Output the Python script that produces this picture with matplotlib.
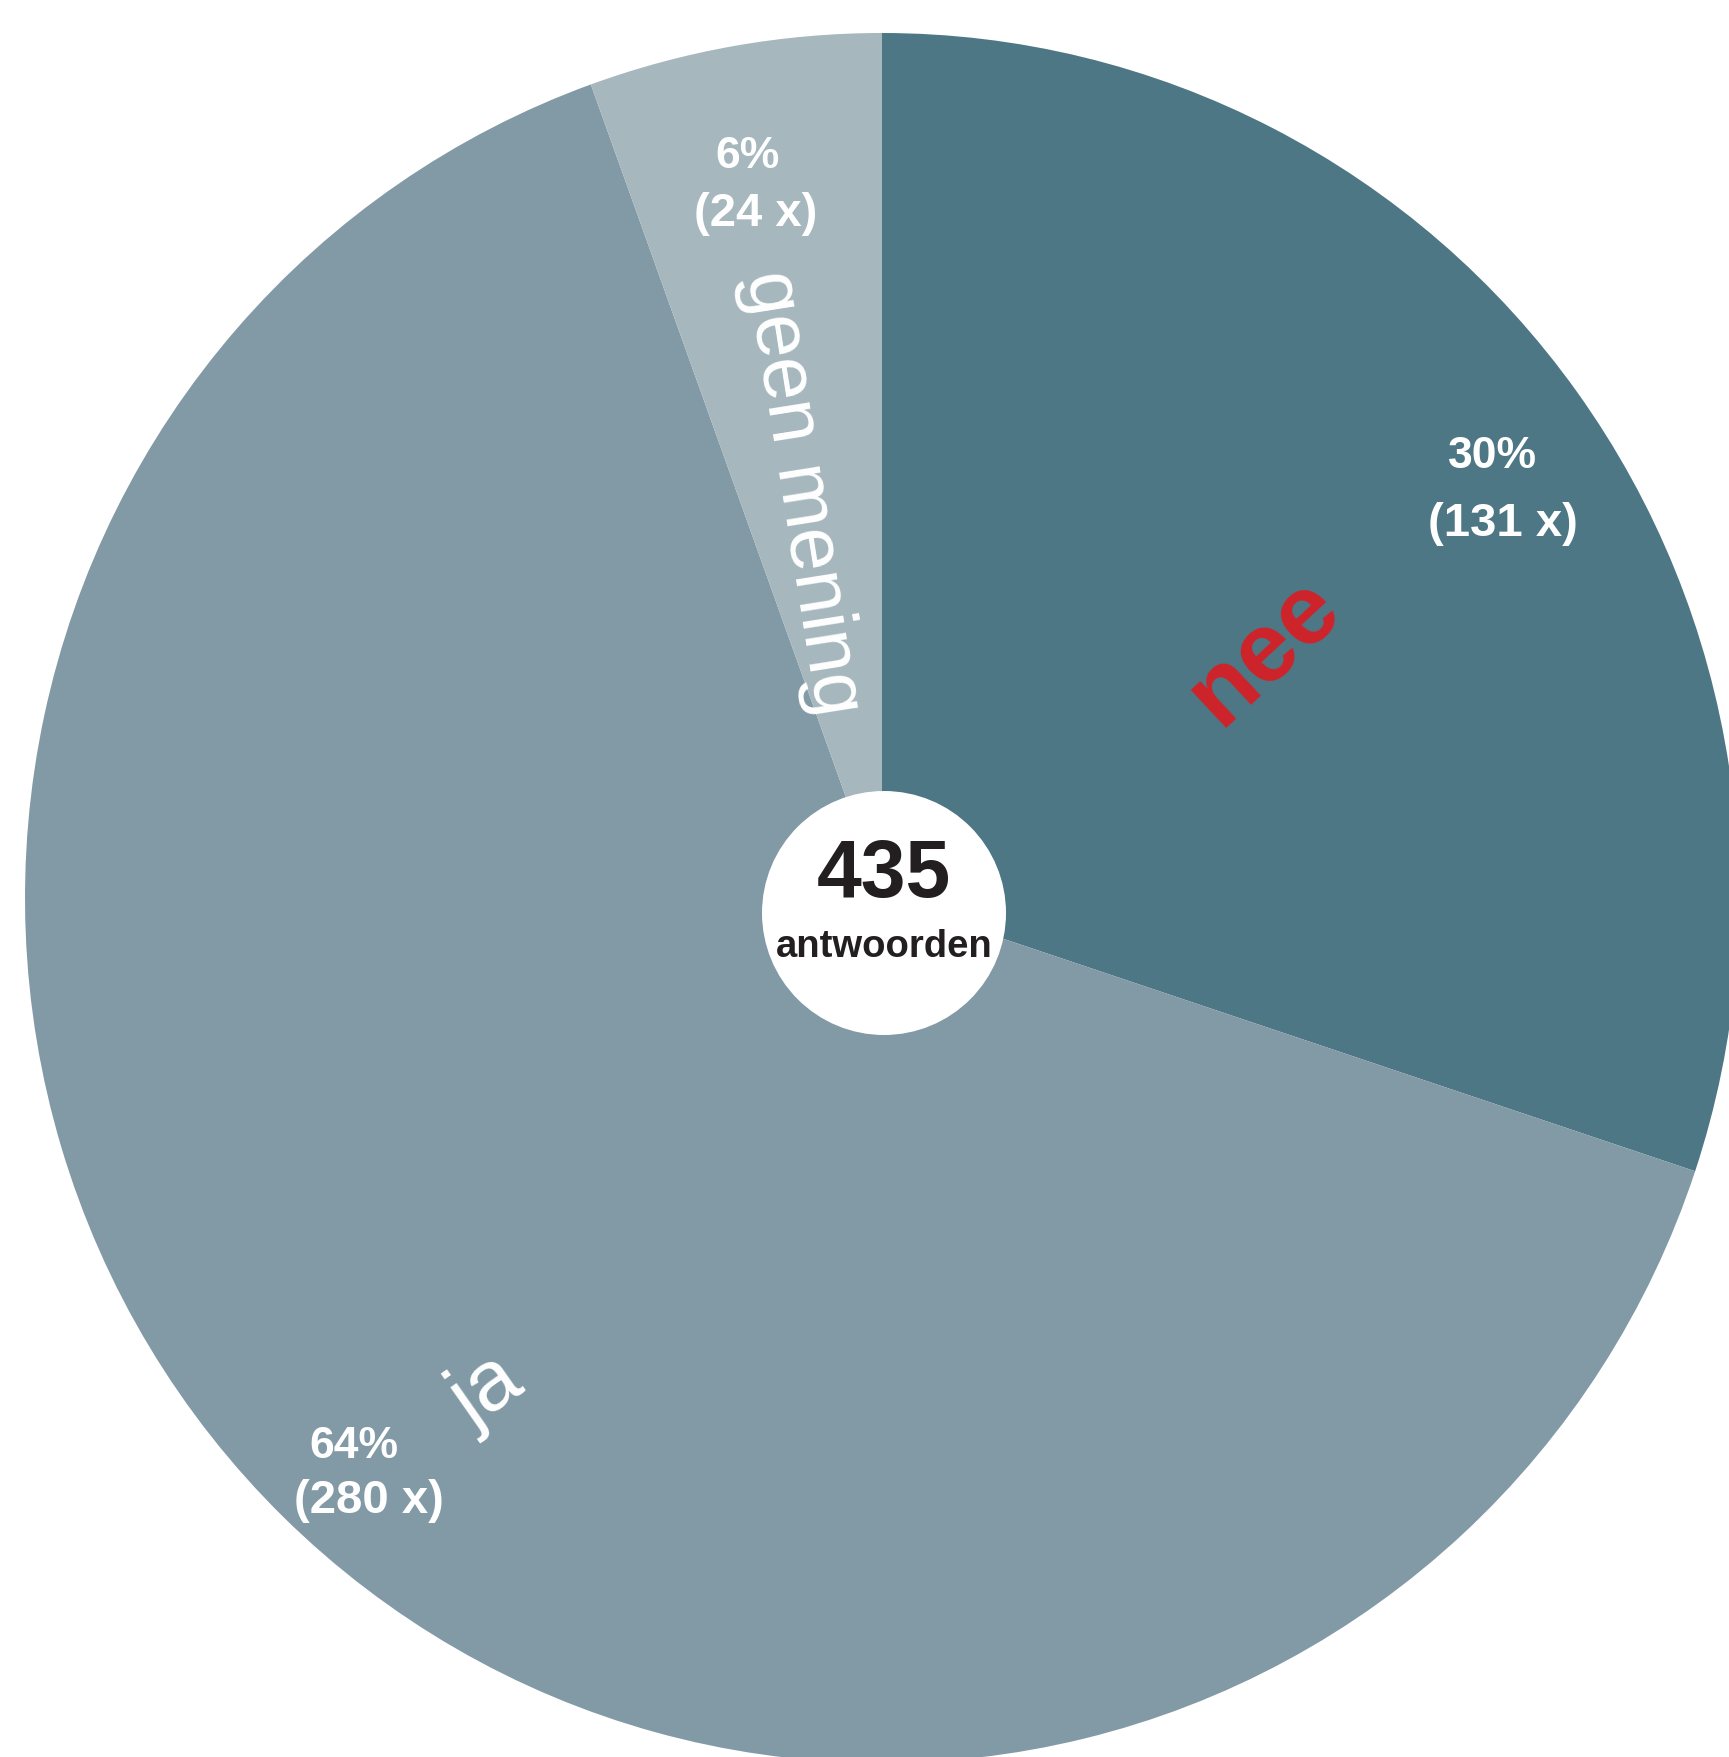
import matplotlib
matplotlib.use("Agg")
import matplotlib.pyplot as plt
from matplotlib.patches import Ellipse

# survey answers
CATEGORIES = ["nee", "ja", "geen mening"]
COUNTS = [131, 280, 24]
TOTAL_LABEL = "antwoorden"

COLORS = ["#4d7784", "#8299a6", "#a6b7be"]
RED = "#cf232a"
INK = "#231f20"

W, H = 1729, 1757
CX, CY = 882, 898          # pie centre in pixels
RX, RY = 857, 865          # pie radius in pixels (x / y)


def px(x, y):
    """pixel position -> data position (pie has radius 1)"""
    return (x - CX) / RX, (CY - y) / RY


def main():
    total = sum(COUNTS)

    fig = plt.figure(figsize=(W / 100, H / 100), dpi=100)
    ax = fig.add_axes([0, 0, 1, 1])

    ax.pie(
        COUNTS,
        colors=COLORS,
        startangle=90,
        counterclock=False,
        radius=1,
        center=(0, 0),
        wedgeprops=dict(linewidth=0),
    )
    ax.set_aspect("auto")
    ax.set_xlim(-CX / RX, (W - CX) / RX)
    ax.set_ylim(-(H - CY) / RY, CY / RY)
    ax.axis("off")

    # white hole with the total
    cx, cy = px(884, 913)
    ax.add_patch(Ellipse((cx, cy), 2 * 122 / RX, 2 * 122 / RY,
                         facecolor="white", edgecolor="none", zorder=3))
    bold = dict(family=["Liberation Sans", "DejaVu Sans"], fontweight="bold")
    ax.text(*px(884, 897), str(total), ha="center", va="baseline",
            fontsize=58, color=INK, zorder=4, **bold)
    ax.text(*px(884, 957), TOTAL_LABEL, ha="center", va="baseline",
            fontsize=27.5, color=INK, zorder=4, **bold)

    # percentage + count labels
    label_pos = {
        "nee": ((1492, 457), (1503, 524)),
        "ja": ((354, 1447), (369, 1501)),
        "geen mening": ((748, 156), (756, 214)),
    }
    for cat, n in zip(CATEGORIES, COUNTS):
        (x1, y1), (x2, y2) = label_pos[cat]
        pct = round(n / total * 100)
        ax.text(*px(x1, y1), f"{pct}%", ha="center", va="center",
                fontsize=32, color="white", zorder=4, **bold)
        ax.text(*px(x2, y2), f"({n} x)", ha="center", va="center",
                fontsize=34, color="white", zorder=4, **bold)

    # category names
    plain = dict(family=["Liberation Sans", "DejaVu Sans"], fontweight="normal")
    ax.text(*px(1264, 652), CATEGORIES[0], rotation=43, rotation_mode="anchor",
            ha="center", va="center", fontsize=71, color=RED, zorder=4, **bold)
    ax.text(*px(487, 1392), CATEGORIES[1], rotation=35, rotation_mode="anchor",
            ha="center", va="center", fontsize=62, color="white", zorder=4, **plain)
    ax.text(*px(802, 493), CATEGORIES[2], rotation=-81, rotation_mode="anchor",
            ha="center", va="center", fontsize=56, color="white", zorder=4, **plain)

    fig.savefig("out.png", dpi=100)
    plt.close(fig)


if __name__ == "__main__":
    main()
